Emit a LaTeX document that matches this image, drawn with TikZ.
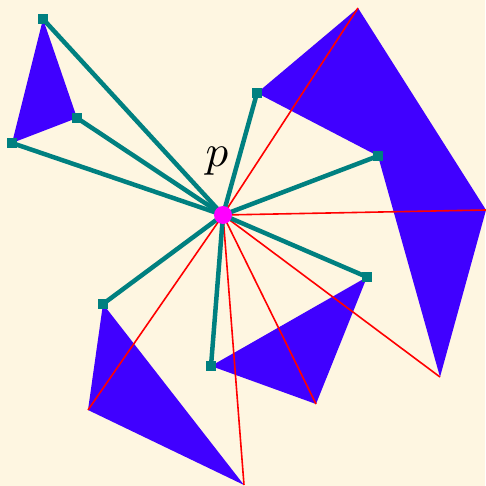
\documentclass[tikz,border=0pt]{standalone}
\definecolor{viewbg}{HTML}{FEF6E1}
\definecolor{obstacleblue}{HTML}{4000FF}
\definecolor{visteal}{HTML}{008080}
\definecolor{rayred}{HTML}{FF0000}
\definecolor{pointmagenta}{HTML}{FF00FF}
\begin{document}
\begin{tikzpicture}[
  x=1pt,
  y=-1pt,
  line join=round,
  obstacle/.style={fill=obstacleblue},
  visedge/.style={draw=visteal,line width=4.5pt},
  rayline/.style={draw=rayred,line width=1.6pt},
  vmark/.style={fill=visteal,inner sep=0pt,minimum size=10pt,rectangle}
]
  % Match the original artwork frame.
  \fill[viewbg] (0,0) rectangle (485,486);
  \useasboundingbox (0,0) rectangle (485,486);

  % Viewpoint.
  \coordinate (p) at (223,215);

  % Obstacle vertices seen directly from p.
  \coordinate (triTop) at (43,19);
  \coordinate (triIn) at (77,118);
  \coordinate (triLeft) at (12,143);
  \coordinate (bendLeft) at (257,93);
  \coordinate (bendIn) at (378,156);
  \coordinate (wedgeRight) at (367,277);
  \coordinate (wedgeLeft) at (211,366);
  \coordinate (spikeTop) at (103,304);

  % Obstacle vertices hidden behind other edges.
  \coordinate (bendTop) at (358,8);
  \coordinate (bendRight) at (486,210);
  \coordinate (bendTip) at (440,377);
  \coordinate (wedgeTip) at (316,404);
  \coordinate (spikeFoot) at (244,485);
  \coordinate (spikeLeft) at (88,410);

  % Blue obstacles.
  \fill[obstacle] (triTop) -- (triIn) -- (triLeft) -- cycle;
  \fill[obstacle] (bendLeft) -- (bendTop) -- (bendRight) -- (bendTip) -- (bendIn) -- cycle;
  \fill[obstacle] (wedgeLeft) -- (wedgeRight) -- (wedgeTip) -- cycle;
  \fill[obstacle] (spikeTop) -- (spikeFoot) -- (spikeLeft) -- cycle;

  % Red rays towards hidden vertices.
  \draw[rayline] (p) -- (bendTop);
  \draw[rayline] (p) -- (bendRight);
  \draw[rayline] (p) -- (bendTip);
  \draw[rayline] (p) -- (wedgeTip);
  \draw[rayline] (p) -- (spikeFoot);
  \draw[rayline] (p) -- (spikeLeft);

  % Teal visibility edges.
  \draw[visedge] (p) -- (triTop);
  \draw[visedge] (p) -- (triIn);
  \draw[visedge] (p) -- (triLeft);
  \draw[visedge] (p) -- (bendLeft);
  \draw[visedge] (p) -- (bendIn);
  \draw[visedge] (p) -- (wedgeRight);
  \draw[visedge] (p) -- (wedgeLeft);
  \draw[visedge] (p) -- (spikeTop);

  % Square markers on visible vertices.
  \node[vmark] (mTriTop) at (triTop) {};
  \node[vmark] (mTriIn) at (triIn) {};
  \node[vmark] (mTriLeft) at (triLeft) {};
  \node[vmark] (mBendLeft) at (bendLeft) {};
  \node[vmark] (mBendIn) at (bendIn) {};
  \node[vmark] (mWedgeRight) at (wedgeRight) {};
  \node[vmark] (mWedgeLeft) at (wedgeLeft) {};
  \node[vmark] (mSpikeTop) at (spikeTop) {};

  % Viewpoint dot and label.
  \fill[pointmagenta] (p) circle[radius=9pt];
  \node[scale=4.5] (plabel) at (217,161) {$p$};
\end{tikzpicture}
\end{document}
